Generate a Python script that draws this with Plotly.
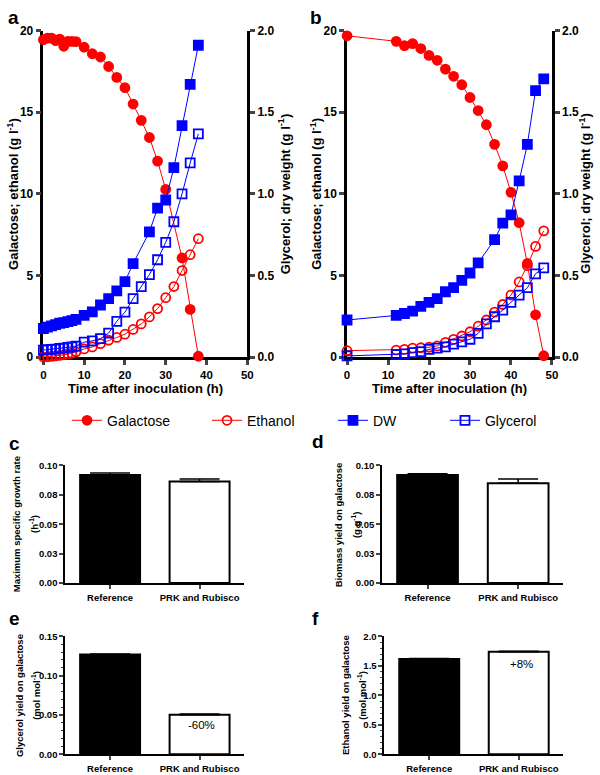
import plotly.graph_objects as go

# ---- panel a : time course, reference strain ----
time_a_gal = [0, 1, 2, 3, 4, 5, 6, 7, 8, 10, 12, 14, 16, 18, 20, 22, 24, 26, 28, 30, 34, 36, 38]
galactose_a = [19.44, 19.54, 19.54, 19.38, 19.48, 19.04, 19.34, 19.34, 19.32, 18.98, 18.58, 18.38,
               17.8, 17.13, 16.5, 15.5, 14.5, 13.45, 12.0, 10.27, 6.07, 2.92, 0.05]
time_a_eth = [0, 1, 2, 3, 4, 5, 6, 7, 8, 10, 12, 14, 16, 18, 20, 22, 24, 26, 28, 30, 32, 34, 36, 38]
ethanol_a = [0.0, 0.02, 0.04, 0.07, 0.1, 0.14, 0.18, 0.24, 0.32, 0.5, 0.62, 0.82, 1.03, 1.2, 1.4,
             1.69, 2.03, 2.46, 2.97, 3.64, 4.32, 5.3, 6.27, 7.25]
time_a_dw = [0, 1, 2, 3, 4, 5, 6, 7, 8, 10, 12, 14, 16, 18, 20, 22, 26, 28, 30, 32, 34, 36, 38]
dw_a = [0.175, 0.183, 0.191, 0.199, 0.207, 0.211, 0.217, 0.223, 0.231, 0.255, 0.277, 0.319,
        0.358, 0.405, 0.462, 0.572, 0.767, 0.912, 0.962, 1.16, 1.418, 1.67, 1.91]
time_a_gly = time_a_eth
glycerol_a = [0.043, 0.045, 0.047, 0.049, 0.053, 0.055, 0.059, 0.063, 0.067, 0.091, 0.099, 0.113,
              0.147, 0.219, 0.275, 0.358, 0.432, 0.505, 0.596, 0.703, 0.829, 1.0, 1.189, 1.367]

# ---- panel b : time course, PRK and Rubisco strain ----
time_b = [0, 12, 14, 16, 18, 20, 22, 24, 26, 28, 30, 32, 34, 36, 38, 40, 42, 44, 46, 48]
galactose_b = [19.68, 19.34, 19.08, 19.2, 18.9, 18.48, 18.18, 17.64, 17.2, 16.68, 15.9, 15.1,
               14.23, 13.03, 11.71, 10.09, 8.23, 5.73, 2.59, 0.08]
ethanol_b = [0.39, 0.43, 0.47, 0.55, 0.57, 0.6, 0.68, 0.9, 1.08, 1.29, 1.55, 1.89, 2.27, 2.75,
             3.22, 3.8, 4.6, 5.6, 6.78, 7.73]
time_b_dw = [0, 12, 14, 16, 18, 20, 22, 24, 26, 28, 30, 32, 36, 38, 40, 42, 44, 46, 48]
dw_b = [0.227, 0.255, 0.267, 0.281, 0.311, 0.335, 0.358, 0.4, 0.425, 0.47, 0.515, 0.577, 0.72,
        0.82, 0.871, 1.079, 1.303, 1.632, 1.704]
glycerol_b = [0.007, 0.015, 0.019, 0.027, 0.033, 0.047, 0.055, 0.063, 0.079, 0.093, 0.109, 0.145,
              0.203, 0.247, 0.287, 0.335, 0.379, 0.425, 0.51, 0.546]

# ---- bar panels c-f ----
strains = ['Reference', 'PRK and Rubisco']
growth_rate = [0.0917, 0.0862]
growth_rate_err = [0.0017, 0.0022]
biomass_yield = [0.0917, 0.0847]
biomass_yield_err = [0.0012, 0.0036]
glycerol_yield = [0.127, 0.0504]
glycerol_yield_err = [0.0005, 0.001]
ethanol_yield = [1.617, 1.74]
ethanol_yield_err = [0.01, 0.01]

ticks_time = [0, 10, 20, 30, 40, 50]
ticks_rate = [0, 0.025, 0.05, 0.075, 0.1]
ticks_rate_text = ['0.00', '0.03', '0.05', '0.08', '0.10']

W, H = 600, 775
FONT = 'Liberation Sans, Arial, sans-serif'
RED, BLUE = '#ff0000', '#0000ff'


def px(x):
    return x / W


def py(y):
    return 1 - y / H


def series(x, y, name, color, symbol, xa, ya, legend):
    return go.Scatter(
        x=x, y=y, name=name, mode='lines+markers', xaxis=xa, yaxis=ya,
        line=dict(color=color, width=1),
        marker=dict(color=color, symbol=symbol, size=9, line=dict(color=color, width=1.8)),
        cliponaxis=False, legend=legend,
    )


data = [
    series(time_a_gal, galactose_a, 'Galactose', RED, 'circle', 'x', 'y', 'legend'),
    series(time_a_eth, ethanol_a, 'Ethanol', RED, 'circle-open', 'x', 'y', 'legend'),
    series(time_a_dw, dw_a, 'DW', BLUE, 'square', 'x', 'y2', 'legend2'),
    series(time_a_gly, glycerol_a, 'Glycerol', BLUE, 'square-open', 'x', 'y2', 'legend2'),
    series(time_b, galactose_b, 'Galactose', RED, 'circle', 'x2', 'y3', 'legend'),
    series(time_b, ethanol_b, 'Ethanol', RED, 'circle-open', 'x2', 'y3', 'legend'),
    series(time_b_dw, dw_b, 'DW', BLUE, 'square', 'x2', 'y4', 'legend2'),
    series(time_b, glycerol_b, 'Glycerol', BLUE, 'square-open', 'x2', 'y4', 'legend2'),
]
# panel b traces repeat the legend entries, hide them
for tr in data[4:]:
    tr.showlegend = False


def bars(vals, errs, xa, ya):
    return go.Bar(
        x=strains, y=vals, xaxis=xa, yaxis=ya, width=0.67, showlegend=False,
        marker=dict(color=['black', 'white'], line=dict(color='black', width=2)),
        error_y=dict(type='data', symmetric=False, array=errs, arrayminus=[0, 0],
                     color='black', thickness=1.5, width=20),
    )


data += [
    bars(growth_rate, growth_rate_err, 'x3', 'y5'),
    bars(biomass_yield, biomass_yield_err, 'x4', 'y6'),
    bars(glycerol_yield, glycerol_yield_err, 'x5', 'y7'),
    bars(ethanol_yield, ethanol_yield_err, 'x6', 'y8'),
]

bold12 = dict(family=FONT, size=12, color='black', weight='bold')
bold11 = dict(family=FONT, size=11.5, color='black', weight='bold')
bold9 = dict(family=FONT, size=9.5, color='black', weight='bold')

time_axis = dict(range=[0, 50], tickvals=ticks_time, ticks='outside', ticklen=5, tickwidth=2.5,
                 showline=True, linewidth=2.5, linecolor='black', showgrid=False, zeroline=False,
                 tickfont=bold11, layer='below traces')
left_axis = dict(range=[0, 20], dtick=5, ticks='outside', ticklen=5, tickwidth=2.5,
                 showline=True, linewidth=2.5, linecolor='black', showgrid=False, zeroline=False,
                 tickfont=bold12, layer='below traces')
right_axis = dict(range=[0, 2], dtick=0.5, tickformat='.1f', side='right', ticks='outside',
                  ticklen=5, tickwidth=2.5, showline=True, linewidth=2.5, linecolor='black',
                  showgrid=False, zeroline=False, tickfont=bold12, layer='below traces')
cat_axis = dict(type='category', range=[-0.5, 1.5], ticks='outside', ticklen=4, tickwidth=1.5,
                showline=True, linewidth=2, linecolor='black', showgrid=False, tickfont=bold9)
bar_axis = dict(ticks='outside', ticklen=4, tickwidth=1.5, showline=True, linewidth=2,
                linecolor='black', showgrid=False, zeroline=False, tickfont=bold9)

top_ab, bot_ab = py(356.5), py(24)
top_cd, bot_cd = py(586.7), py(466.7)
top_ef, bot_ef = py(761), py(641)

layout = go.Layout(
    width=W, height=H, margin=dict(l=0, r=0, t=0, b=0),
    paper_bgcolor='white', plot_bgcolor='white',
    font=dict(family=FONT, color='black'),
    xaxis=dict(time_axis, domain=[px(41), px(248)], anchor='y'),
    yaxis=dict(left_axis, domain=[top_ab, bot_ab], anchor='x'),
    yaxis2=dict(right_axis, overlaying='y', anchor='x'),
    xaxis2=dict(time_axis, domain=[px(349.3), px(557.3)], anchor='y3'),
    yaxis3=dict(left_axis, domain=[top_ab, bot_ab], anchor='x2'),
    yaxis4=dict(right_axis, overlaying='y3', anchor='x2'),
    xaxis3=dict(cat_axis, domain=[px(63.3), px(245)], anchor='y5'),
    yaxis5=dict(bar_axis, domain=[top_cd, bot_cd], anchor='x3', range=[0, 0.1],
                tickvals=ticks_rate, ticktext=ticks_rate_text),
    xaxis4=dict(cat_axis, domain=[px(385), px(569)], anchor='y6'),
    yaxis6=dict(bar_axis, domain=[top_cd, bot_cd], anchor='x4', range=[0, 0.1],
                tickvals=ticks_rate, ticktext=ticks_rate_text),
    xaxis5=dict(cat_axis, domain=[px(63.3), px(245)], anchor='y7'),
    yaxis7=dict(bar_axis, domain=[top_ef, bot_ef], anchor='x5', range=[0, 0.15], dtick=0.05,
                tickformat='.2f', minor=dict(dtick=0.01, ticks='outside', ticklen=2, tickwidth=1)),
    xaxis6=dict(cat_axis, domain=[px(387.3), px(569)], anchor='y8'),
    yaxis8=dict(bar_axis, domain=[top_ef, bot_ef], anchor='x6', range=[0, 2], dtick=0.5,
                tickformat='.1f', minor=dict(dtick=0.1, ticks='outside', ticklen=2, tickwidth=1)),
    legend=dict(orientation='h', x=px(65), y=py(405), xanchor='left', yanchor='top',
                font=dict(family=FONT, size=14), entrywidth=95, bgcolor='rgba(0,0,0,0)'),
    legend2=dict(orientation='h', x=px(335), y=py(405), xanchor='left', yanchor='top',
                 font=dict(family=FONT, size=14), entrywidth=67, bgcolor='rgba(0,0,0,0)'),
)

fig = go.Figure(data=data, layout=layout)


def note(x, y, text, size, bold=True, angle=0):
    fig.add_annotation(x=px(x), y=py(y), xref='paper', yref='paper', text=text,
                       showarrow=False, textangle=angle, xanchor='center', yanchor='middle',
                       font=dict(family=FONT, size=size, color='black',
                                 weight='bold' if bold else 'normal'))


# panel letters
for lx, ly, letter in [(11, 11, 'a'), (318, 11, 'b'), (12, 445, 'c'),
                       (320, 443, 'd'), (12, 623, 'e'), (317, 623, 'f')]:
    note(lx, ly, letter, 19)

# axis titles of the time courses
note(9.5, 190, 'Galactose; ethanol (g l<sup>-1</sup>)', 13, angle=-90)
note(285, 190, 'Glycerol; dry weight (g l<sup>-1</sup>)', 13, angle=-90)
note(317, 190, 'Galactose; ethanol (g l<sup>-1</sup>)', 13, angle=-90)
note(590, 190, 'Glycerol; dry weight (g l<sup>-1</sup>)', 13, angle=-90)
note(145, 389, 'Time after inoculation (h)', 13)
note(453, 389, 'Time after inoculation (h)', 13)

# axis titles of the bar charts
note(14, 527, 'Maximum specific growth rate', 9.5, angle=-90)
note(32, 527, '(h<sup>-1</sup>)', 9.5, angle=-90)
note(341, 527, 'Biomass yield on galactose', 9.5, angle=-90)
note(359, 527, '(g g<sup>-1</sup>)', 9.5, angle=-90)
note(17, 701, 'Glycerol yield on galactose', 9.5, angle=-90)
note(34, 701, '(mol mol<sup>-1</sup>)', 9.5, angle=-90)
note(348, 701, 'Ethanol yield on galactose', 9.5, angle=-90)
note(365, 701, '(mol mol<sup>-1</sup>)', 9.5, angle=-90)

# relative changes
note(201.7, 731.7, '-60%', 11.5, bold=False)
note(526.7, 669, '+8%', 11.5, bold=False)

# the page's default 8px body margin would shift the fixed-size figure
fig.write_html('out.html', config={'displayModeBar': False},
               post_script="document.body.style.margin='0';")
